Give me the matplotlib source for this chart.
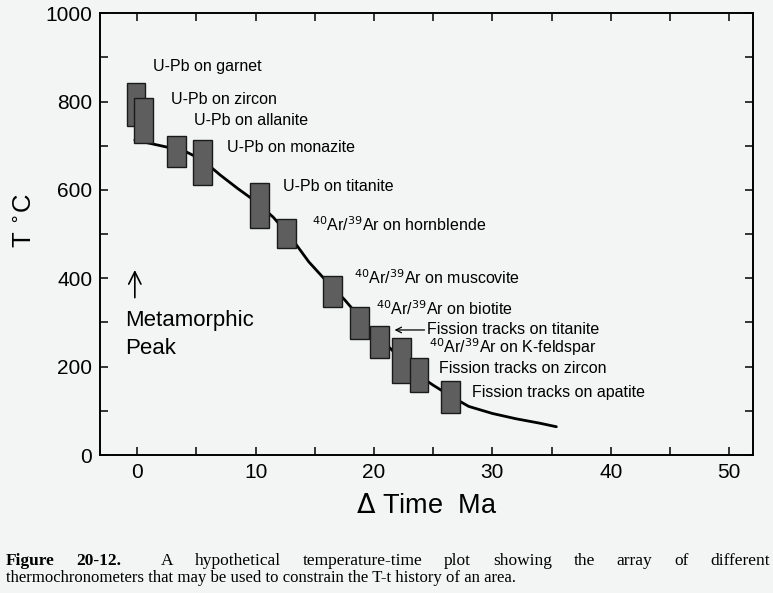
import matplotlib
matplotlib.use("Agg")
import matplotlib.pyplot as plt
from matplotlib.patches import Rectangle

# thermochronometer boxes: centre time (Ma), width, T range (deg C)
names = ["U-Pb on garnet", "U-Pb on zircon", "U-Pb on allanite", "U-Pb on monazite",
         "U-Pb on titanite", "$^{40}$Ar/$^{39}$Ar on hornblende",
         "$^{40}$Ar/$^{39}$Ar on muscovite", "$^{40}$Ar/$^{39}$Ar on biotite",
         "Fission tracks on titanite", "$^{40}$Ar/$^{39}$Ar on K-feldspar",
         "Fission tracks on zircon", "Fission tracks on apatite"]
box_t = [-0.1, 0.5, 3.3, 5.55, 10.3, 12.6, 16.5, 18.75, 20.45, 22.3, 23.8, 26.5]
box_lo = [745, 707, 651, 611, 513, 468, 335, 262, 220, 162, 143, 94]
box_hi = [843, 808, 722, 714, 615, 535, 405, 335, 292, 264, 219, 167]
box_w = 1.6

# label anchor (left edge, vertical centre)
label_x = [1.36, 2.85, 4.8, 7.55, 12.35, 14.75, 18.35, 20.2, 24.5, 24.65, 25.45, 28.3]
label_y = [879, 805, 758, 697, 607, 522, 402, 332, 283, 244, 196, 141]

# cooling path
path_t = [-0.2, 2, 4, 5.5, 7, 8.5, 10, 11.5, 13, 14.5, 16, 17.5, 19, 20.5, 22,
          23.5, 25, 26.5, 28, 30, 32, 34, 35.4]
path_T = [713, 700, 688, 668, 634, 603, 574, 538, 492, 437, 393, 352, 305, 264, 225,
          185, 158, 133, 110, 94, 82, 72, 64]

bg = "#f3f5f5"
plt.rcParams["font.family"] = ["Liberation Sans", "DejaVu Sans"]

fig = plt.figure(figsize=(7.73, 5.93), dpi=100, facecolor=bg)
ax = fig.add_axes([0.130, 0.2327, 0.844, 0.745])
ax.set_facecolor(bg)

ax.plot(path_t, path_T, color="black", lw=2.0, zorder=2, solid_capstyle="round")

for t, lo, hi in zip(box_t, box_lo, box_hi):
    ax.add_patch(Rectangle((t - box_w / 2, lo), box_w, hi - lo, facecolor="#5e5e5e",
                           edgecolor="#1a1a1a", lw=1.0, zorder=3))

for i, name in enumerate(names):
    if name.startswith("Fission tracks on titanite"):
        ax.annotate("", xy=(21.5, label_y[i]), xytext=(label_x[i], label_y[i]),
                    arrowprops=dict(arrowstyle="->", lw=0.9, color="black"))
    ax.text(label_x[i], label_y[i], name, fontsize=11.5, va="center", ha="left", zorder=4)

# metamorphic peak note
ax.annotate("", xy=(-0.2, 425), xytext=(-0.2, 350),
            arrowprops=dict(arrowstyle="->", lw=1.2, color="black", mutation_scale=22))
ax.text(-1.0, 305, "Metamorphic", fontsize=16, va="center", ha="left")
ax.text(-1.0, 241, "Peak", fontsize=16, va="center", ha="left")

ax.set_xlim(-3.1, 52.0)
ax.set_ylim(0, 1000)
ax.set_xticks(range(0, 51, 10))
ax.set_xticks(range(0, 51, 5), minor=True)
ax.set_yticks(range(0, 1001, 200))
ax.set_yticks(range(0, 1001, 100), minor=True)
ax.tick_params(which="both", direction="in", top=True, right=True, width=1.1)
ax.tick_params(which="major", length=6, labelsize=15, pad=6)
ax.tick_params(which="minor", length=6)
ax.tick_params(axis="y", which="both", labelright=False)
for s in ax.spines.values():
    s.set_linewidth(1.4)

ax.set_xlabel("$\\Delta$ Time  Ma", fontsize=19.5, labelpad=8)
ax.set_ylabel("T $^{\\circ}$C", fontsize=18.5)
ax.yaxis.set_label_coords(-0.098, 0.53)

# caption, first line justified between the margins
cap1 = ["Figure", "20-12.", "A", "hypothetical", "temperature-time", "plot", "showing",
        "the", "array", "of", "different"]
cap2 = "thermochronometers that may be used to constrain the T-t history of an area."
x0, x1 = 6 / 773, 770 / 773
y1, y2 = 1 - 561 / 593, 1 - 578 / 593
fig.canvas.draw()
r = fig.canvas.get_renderer()
words = []
for k, w in enumerate(cap1):
    words.append(fig.text(0, y1, w, family="Liberation Serif", fontsize=12.5,
                          weight="bold" if k < 2 else "normal", va="center"))
widths = [wd.get_window_extent(r).width / fig.bbox.width for wd in words]
gaps = [1.8 if k == 1 else 1.0 for k in range(len(words) - 1)]
free = (x1 - x0 - sum(widths)) / sum(gaps)
x = x0
for k, wd in enumerate(words):
    wd.set_x(x)
    if k < len(gaps):
        x += widths[k] + free * gaps[k]
fig.text(x0, y2, cap2, family="Liberation Serif", fontsize=12.1, va="center")

fig.savefig("out.png", dpi=100, facecolor=bg)
